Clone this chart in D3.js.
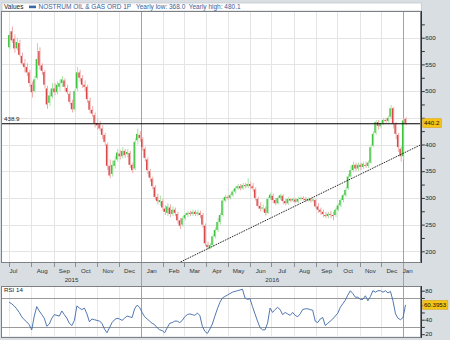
<!DOCTYPE html>
<html>
<head>
<meta charset="utf-8">
<script src="https://cdn.jsdelivr.net/npm/d3@7"></script>
<style>
  html, body { margin: 0; padding: 0; background: #d9dee3; }
  svg { display: block; font-family: "Liberation Sans", Arial, sans-serif; }
</style>
</head>
<body>
<svg width="450" height="340"></svg>
<script>
// ---- data ---------------------------------------------------------------
const seriesName = "NOSTRUM OIL & GAS ORD 1P";
const yearlyLow = "368.0";
const yearlyHigh = "480.1";

// price bars, one every 3.5 calendar days starting on this date
const firstBarDate = "2015-07-01";
const barStepDays = 3.5;

const open = [
  582,612,598,580,590,566,552,545,535,512,
  500,525,575,548,536,505,478,490,505,498,
  508,515,520,506,495,478,466,505,535,524,
  512,508,482,465,455,440,438,430,418,400,
  360,345,360,372,383,378,388,382,384,362,
  355,408,418,410,392,372,350,336,320,302,
  292,294,280,272,282,270,278,270,258,250,
  262,268,272,270,274,270,272,268,248,212,
  206,212,228,240,255,268,295,302,300,305,
  312,318,322,318,324,322,326,322,316,298,
  285,280,280,272,300,304,296,290,300,304,
  294,290,298,295,297,293,298,300,298,296,
  298,295,296,284,278,274,268,266,270,268,
  268,278,286,296,305,318,340,352,362,355,
  362,358,362,360,366,398,422,442,434,440,
  446,444,452,468,438,418,392,378,448
];
const high = [
  612,621,606,600,596,572,560,552,540,518,
  528,590,582,552,540,510,498,515,515,518,
  522,528,524,512,500,484,504,545,540,530,
  520,512,488,472,460,448,444,436,422,404,
  372,370,378,392,390,395,392,392,388,366,
  412,430,425,414,396,376,354,340,324,308,
  304,298,286,290,288,284,282,274,262,266,
  272,276,276,278,277,278,276,272,252,218,
  216,232,245,262,272,300,306,305,308,316,
  322,326,326,328,328,337,330,328,320,302,
  292,288,284,302,310,308,300,304,308,307,
  298,302,300,301,300,302,303,303,302,301,
  300,300,298,290,282,278,274,274,276,274,
  282,290,300,308,320,345,360,368,366,366,
  366,368,368,370,400,425,446,446,444,450,
  450,454,474,470,442,422,396,450,451
];
const low = [
  578,590,572,576,565,548,535,528,508,488,
  497,522,540,530,505,467,472,486,492,494,
  500,508,500,494,475,460,462,500,518,506,
  500,478,458,452,432,428,425,410,398,352,
  337,340,355,368,372,374,375,376,356,346,
  352,400,405,388,368,345,330,316,296,288,
  285,276,268,266,264,266,266,252,242,246,
  258,264,266,266,266,266,262,244,210,203,
  204,208,224,236,250,265,292,296,297,302,
  308,315,314,315,318,318,316,312,295,280,
  275,274,267,270,296,290,286,288,296,288,
  286,287,292,292,290,290,295,295,292,293,
  291,292,280,272,268,264,262,262,262,258,
  264,275,283,292,302,315,338,348,350,350,
  352,354,356,356,364,395,418,428,430,436,
  440,440,448,430,410,386,368,372,436
];
const close = [
  605,595,580,592,568,552,545,535,515,498,
  522,560,548,538,512,475,492,505,498,512,
  515,522,508,498,480,466,500,535,525,512,
  508,485,465,458,440,436,430,418,405,360,
  342,362,370,385,378,388,380,386,362,352,
  405,420,412,395,375,352,338,322,302,294,
  296,282,274,284,270,278,272,258,248,262,
  268,272,270,274,270,273,268,250,215,208,
  212,228,240,255,268,295,302,300,305,312,
  318,322,318,324,322,326,322,318,300,285,
  280,282,272,298,306,296,290,300,305,294,
  290,298,295,298,293,298,300,298,296,298,
  295,297,284,278,274,270,266,270,268,266,
  278,286,296,305,315,340,352,362,355,362,
  358,364,360,366,395,420,442,435,440,446,
  444,450,468,440,420,395,378,445,440.2
];

// RSI(14) on the same bar dates
const rsi = [
  64,62,59,55,50,44,40,37,33,26,
  45,58,52,47,42,31,34,42,47,46,
  45,52,47,42,35,32,39,59,56,54,
  56,48,37,41,40,39,38,35,27,22,
  29,36,40,42,41,39,42,45,44,43,
  55,60,57,50,44,41,38,35,33,29,
  26,25,22,29,35,36,38,38,36,39,
  44,47,48,47,46,49,46,31,24,21,
  27,34,45,55,64,70,72,74,76,78,
  79,80,81,82,70,68,69,58,48,38,
  29,26,26,35,56,50,54,57,54,47,
  50,48,46,50,46,44,48,54,55,55,
  54,53,38,36,41,43,32,35,38,41,
  45,49,57,62,67,74,80,76,71,71,
  68,68,73,66,72,80,78,80,80,78,
  80,77,79,66,48,42,40,43,60.3953
];

const refLevel = 438.9;                       // horizontal reference line
const trendStart = ["2016-02-25", 180];       // support trend line
const trendEnd = ["2017-01-26", 400];

const priceTicks = [200, 250, 300, 350, 400, 450, 500, 550, 600];
const priceMinorTicks = [200, 225, 250, 275, 300, 325, 350, 375, 400, 425, 450, 475, 500, 525, 550, 575, 600, 625];
const rsiTicks = [20, 40, 60, 80];
const rsiMinorTicks = [20, 30, 40, 50, 60, 70, 80];
const rsiBands = [30, 70];
const axisStart = "2015-06-21";
const axisEnd = "2017-01-26";

// ---- layout -------------------------------------------------------------
const L = 2, R = 421.3;
const T = 11, B = 262;          // price panel
const rT = 286, rB = 336.5;     // RSI panel
const DAY = 864e5;
const FONT = 6.2;

const svg = d3.select("svg");
const utc = s => new Date(s + "T00:00:00Z");

const x = d3.scaleUtc().domain([utc(axisStart), utc(axisEnd)]).range([L, R]);
const y = d3.scaleLinear().domain([180, 650]).range([B, T]);
const yr = d3.scaleLinear().domain([16.8, 86.5]).range([rB, rT]);

const t0 = utc(firstBarDate).getTime();
const bars = close.map((c, i) => ({
  date: new Date(t0 + i * barStepDays * DAY),
  o: open[i], h: high[i], l: low[i], c: c, r: rsi[i]
}));
const last = bars[bars.length - 1];

// ---- backgrounds --------------------------------------------------------
svg.append("rect").attr("width", 450).attr("height", 340).attr("fill", "#d9dee3");
svg.append("rect").attr("x", L).attr("y", 3).attr("width", R - L).attr("height", T - 3)
  .attr("fill", "#fff").attr("stroke", "#c4c8cc").attr("stroke-width", 0.8);
svg.append("rect").attr("x", L).attr("y", T).attr("width", R - L).attr("height", B - T).attr("fill", "#fff");
svg.append("rect").attr("x", L).attr("y", rT).attr("width", R - L).attr("height", rB - rT).attr("fill", "#fff");

const defs = svg.append("defs");
defs.append("clipPath").attr("id", "clipPrice")
  .append("rect").attr("x", L).attr("y", T).attr("width", R - L).attr("height", B - T);
defs.append("clipPath").attr("id", "clipRsi")
  .append("rect").attr("x", L).attr("y", rT).attr("width", R - L).attr("height", rB - rT);

// ---- grid ---------------------------------------------------------------
const months = d3.utcMonths(x.domain()[0], x.domain()[1]);
const years = d3.utcYears(x.domain()[0], x.domain()[1]);
const grid = svg.append("g").attr("shape-rendering", "crispEdges");

grid.selectAll(".hp").data(priceTicks).join("line")
  .attr("x1", L).attr("x2", R)
  .attr("y1", d => Math.round(y(d)) + 0.5).attr("y2", d => Math.round(y(d)) + 0.5)
  .attr("stroke", "#e4e4e4");

months.forEach(m => {
  const px = Math.round(x(m)) + 0.5;
  grid.append("line").attr("x1", px).attr("x2", px).attr("y1", T).attr("y2", B).attr("stroke", "#e4e4e4");
  grid.append("line").attr("x1", px).attr("x2", px).attr("y1", rT).attr("y2", rB).attr("stroke", "#e8e8e8");
  grid.append("line").attr("x1", px).attr("x2", px).attr("y1", B).attr("y2", B + 5).attr("stroke", "#8a8f94");
});
years.forEach(yv => {
  const px = Math.round(x(yv)) + 0.5;
  grid.append("line").attr("x1", px).attr("x2", px).attr("y1", T).attr("y2", rB).attr("stroke", "#a2a2a2");
});

grid.selectAll(".band").data(rsiBands).join("line")
  .attr("x1", L).attr("x2", R)
  .attr("y1", d => Math.round(yr(d)) + 0.5).attr("y2", d => Math.round(yr(d)) + 0.5)
  .attr("stroke", "#9a9a9a");

// ---- price bars ---------------------------------------------------------
const up = "#3ec43e", upLight = "#a6e6a6", down = "#d84848", downLight = "#f2a9a9";
const gBars = svg.append("g").attr("clip-path", "url(#clipPrice)");
gBars.selectAll(".wick").data(bars).join("rect")
  .attr("x", d => x(d.date) + 0.2)
  .attr("width", 1)
  .attr("y", d => y(d.h))
  .attr("height", d => Math.max(1, y(d.l) - y(d.h)))
  .attr("fill", d => d.c >= d.o ? upLight : downLight);
gBars.selectAll(".body").data(bars).join("rect")
  .attr("x", d => x(d.date) - 1.1)
  .attr("width", 1.4)
  .attr("y", d => y(Math.max(d.o, d.c)))
  .attr("height", d => Math.max(1, Math.abs(y(d.o) - y(d.c))))
  .attr("fill", d => d.c >= d.o ? up : down);

// ---- trend line and reference level -------------------------------------
svg.append("line").attr("clip-path", "url(#clipPrice)")
  .attr("x1", x(utc(trendStart[0]))).attr("y1", y(trendStart[1]))
  .attr("x2", x(utc(trendEnd[0]))).attr("y2", y(trendEnd[1]))
  .attr("stroke", "#111").attr("stroke-width", 0.9).attr("stroke-dasharray", "1.6,1");

svg.append("line")
  .attr("x1", L).attr("x2", R).attr("y1", y(refLevel)).attr("y2", y(refLevel))
  .attr("stroke", "#000").attr("stroke-width", 1.2);
svg.append("text").attr("x", L + 2).attr("y", y(refLevel) - 2.5)
  .attr("font-size", FONT).attr("fill", "#222").text(refLevel.toFixed(1));

// ---- RSI line -----------------------------------------------------------
svg.append("path").datum(bars).attr("clip-path", "url(#clipRsi)")
  .attr("fill", "none").attr("stroke", "#3d68a8").attr("stroke-width", 0.9)
  .attr("d", d3.line().x(d => x(d.date)).y(d => yr(d.r)));

// ---- frames -------------------------------------------------------------
const frame = svg.append("g").attr("shape-rendering", "crispEdges").attr("fill", "none");
frame.append("rect").attr("x", L - 0.5).attr("y", T + 0.5).attr("width", R - L).attr("height", B - T)
  .attr("stroke", "#7d8185");
frame.append("rect").attr("x", L - 0.5).attr("y", rT + 0.5).attr("width", R - L).attr("height", rB - rT)
  .attr("stroke", "#7d8185");
frame.append("line").attr("x1", R + 0.5).attr("x2", R + 0.5).attr("y1", T).attr("y2", B + 1).attr("stroke", "#333");
frame.append("line").attr("x1", R + 0.5).attr("x2", R + 0.5).attr("y1", rT).attr("y2", rB + 1).attr("stroke", "#333");

// ---- right axes ---------------------------------------------------------
// labels that would sit under a last-value box are left out
const clearOf = (scale, v) => d => Math.abs(scale(d) - scale(v)) > 7;

const axisPrice = svg.append("g").attr("transform", `translate(${R + 0.5},0)`);
axisPrice.call(d3.axisRight(y).tickValues(priceMinorTicks).tickSize(3).tickFormat(""));
axisPrice.call(g => g.select(".domain").remove());
axisPrice.selectAll(".tick line").attr("stroke", "#333");
axisPrice.selectAll(".lbl").data(priceTicks.filter(clearOf(y, last.c))).join("text")
  .attr("x", 3.5).attr("y", d => y(d) + 2.2)
  .attr("font-size", FONT).attr("fill", "#222").text(d => d);

const axisRsi = svg.append("g").attr("transform", `translate(${R + 0.5},0)`);
axisRsi.call(d3.axisRight(yr).tickValues(rsiMinorTicks).tickSize(3).tickFormat(""));
axisRsi.call(g => g.select(".domain").remove());
axisRsi.selectAll(".tick line").attr("stroke", "#333");
axisRsi.selectAll(".lbl").data(rsiTicks.filter(clearOf(yr, last.r))).join("text")
  .attr("x", 3.5).attr("y", d => yr(d) + 2.2)
  .attr("font-size", FONT).attr("fill", "#222").text(d => d);

// last-value boxes
function valueBox(cy, label, w) {
  svg.append("rect").attr("x", R + 1.5).attr("y", cy - 4.3).attr("width", w).attr("height", 8.6)
    .attr("fill", "#f6c414").attr("stroke", "#d9a400").attr("stroke-width", 0.6);
  svg.append("text").attr("x", R + 2.6).attr("y", cy + 2.2)
    .attr("font-size", FONT).attr("fill", "#111").text(label);
}
valueBox(y(last.c), last.c.toFixed(1), 18.5);
valueBox(yr(last.r), last.r.toFixed(4), 25);

// ---- time axis labels ---------------------------------------------------
// full months are labelled mid-month; the two edge months sit just after their gridline
const fmtMonth = d3.utcFormat("%b");
months.forEach((m, i) => {
  const edge = i === 0 || i === months.length - 1;
  const cx = edge ? x(m) + 4.3 : x(d3.utcDay.offset(m, 15));
  svg.append("text").attr("x", cx).attr("y", 273.3).attr("text-anchor", "middle")
    .attr("font-size", FONT).attr("fill", "#333").text(fmtMonth(m));
});
const spans = [x.domain()[0], ...years, x.domain()[1]];
const fmtYear = d3.utcFormat("%Y");
for (let i = 0; i + 1 < spans.length; i++) {
  const s = spans[i], e = spans[i + 1];
  if (x(e) - x(s) < 60) continue;
  svg.append("text").attr("x", (x(s) + x(e)) / 2).attr("y", 281.6).attr("text-anchor", "middle")
    .attr("font-size", FONT).attr("fill", "#333").text(fmtYear(s));
}

// ---- legend and panel titles -------------------------------------------
svg.append("text").attr("x", L + 2).attr("y", 9.4).attr("font-size", FONT + 0.3).attr("fill", "#222").text("Values");
svg.append("rect").attr("x", 29).attr("y", 5.6).attr("width", 7).attr("height", 2.6).attr("fill", "#3d68a8");
svg.append("text").attr("x", 38.5).attr("y", 9.4).attr("font-size", FONT + 0.3).attr("fill", "#3a5c98").text(seriesName);
svg.append("text").attr("x", 136).attr("y", 9.4).attr("font-size", FONT + 0.3).attr("fill", "#3a5c98")
  .attr("xml:space", "preserve")
  .text(`Yearly low: ${yearlyLow}  Yearly high: ${yearlyHigh}`);

svg.append("text").attr("x", L + 2).attr("y", 292.2).attr("font-size", FONT).attr("fill", "#222").text("RSI 14");
</script>
</body>
</html>
